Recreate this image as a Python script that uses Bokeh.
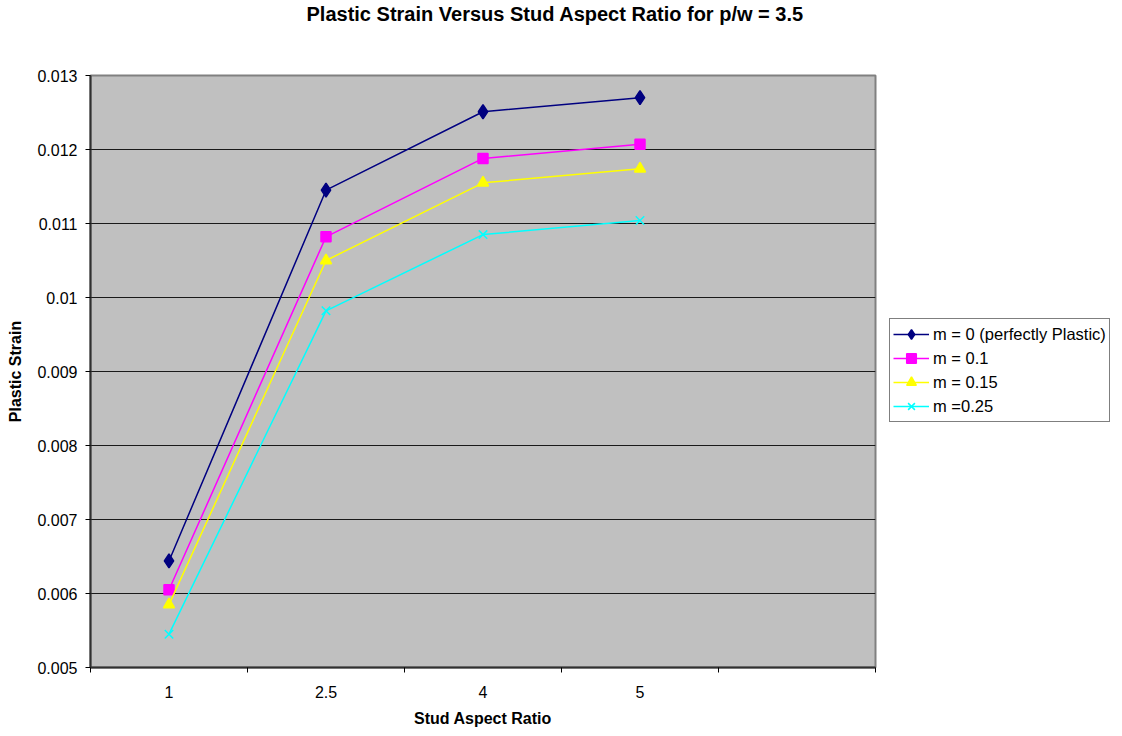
from bokeh.plotting import figure
from bokeh.models import FixedTicker, Range1d, Legend, Title
from bokeh.layouts import row
from bokeh.embed import file_html
from bokeh.resources import INLINE

# ---- data ----
categories = ["1", "2.5", "4", "5"]
m0 = [0.00644, 0.01145, 0.01251, 0.01270]
m01 = [0.00605, 0.01082, 0.01188, 0.01207]
m015 = [0.00585, 0.01050, 0.01155, 0.01174]
m025 = [0.00545, 0.00982, 0.01085, 0.01104]
series_names = ["m = 0 (perfectly Plastic)", "m = 0.1", "m = 0.15", "m =0.25"]
y_ticks = [0.005, 0.006, 0.007, 0.008, 0.009, 0.010, 0.011, 0.012, 0.013]
y_tick_labels = ["0.005", "0.006", "0.007", "0.008", "0.009", "0.01", "0.011", "0.012", "0.013"]
n_slots = 5  # category slots on the axis (last one empty)
chart_title = "Plastic Strain Versus Stud Aspect Ratio for p/w = 3.5"

FONT = "Liberation Sans"
W_MAIN = 877
W_LEG = 1122 - W_MAIN

x_pos = [i + 0.5 for i in range(len(categories))]

p = figure(width=W_MAIN, height=736, output_backend="svg", toolbar_location=None,
           x_range=Range1d(0, n_slots), y_range=Range1d(y_ticks[0], y_ticks[-1]),
           min_border_left=90, min_border_right=2, min_border_top=0, min_border_bottom=69)
p.title = None

p.border_fill_color = "white"
p.background_fill_color = "#C0C0C0"
p.outline_line_color = "#808080"
p.outline_line_width = 2

# x axis
xa = p.xaxis[0]
xa.ticker = FixedTicker(ticks=x_pos, minor_ticks=list(range(n_slots + 1)))
xa.major_label_overrides = {x: c for x, c in zip(x_pos, categories)}
xa.major_tick_out = 0
xa.major_tick_in = 0
xa.minor_tick_out = 5
xa.minor_tick_in = 0
xa.minor_tick_line_color = "black"
xa.axis_line_color = "#303030"
xa.axis_line_width = 2
xa.axis_label = "Stud Aspect Ratio"
xa.axis_label_text_font = FONT
xa.axis_label_text_font_style = "bold"
xa.axis_label_text_font_size = "16px"
xa.axis_label_text_color = "black"
xa.axis_label_standoff = 9
xa.major_label_text_font = FONT
xa.major_label_text_font_size = "16px"
xa.major_label_standoff = 13
xa.major_label_text_color = "black"

# y axis
ya = p.yaxis[0]
ya.ticker = FixedTicker(ticks=y_ticks, minor_ticks=[])
ya.major_label_overrides = {t: l for t, l in zip(y_ticks, y_tick_labels)}
ya.major_tick_out = 5
ya.major_tick_in = 0
ya.major_tick_line_color = "black"
ya.axis_line_color = "#303030"
ya.axis_line_width = 2
ya.axis_label = "Plastic Strain"
ya.axis_label_text_font = FONT
ya.axis_label_text_font_style = "bold"
ya.axis_label_text_font_size = "16px"
ya.axis_label_text_color = "black"
ya.axis_label_standoff = 10
ya.major_label_text_font = FONT
ya.major_label_text_font_size = "16px"
ya.major_label_standoff = 8
ya.major_label_text_color = "black"

p.xgrid.grid_line_color = None
p.ygrid.grid_line_color = "#1a1a1a"
p.ygrid.grid_line_width = 1

colors = ["#000080", "#FF00FF", "#FFFF00", "#00FFFF"]
markers = ["diamond", "square", "triangle", "x"]
sizes = [14, 10, 11, 12]
data = [m0, m01, m015, m025]

for vals, col, mk, sz in zip(data, colors, markers, sizes):
    p.line(x_pos, vals, line_color=col, line_width=1.5)
    p.scatter(x_pos, vals, marker=mk, size=sz,
              fill_color=col, line_color=col, line_width=1.5)

# spacer title (closest to frame) then the real title above it
p.add_layout(Title(text=" ", text_font_size="1px", standoff=48), "above")
p.add_layout(Title(text=chart_title, text_font=FONT, text_font_style="bold",
                   text_font_size="20px", text_color="black",
                   align="left", offset=216, standoff=0), "above")

# ---- legend panel (separate figure to the right) ----
lf = figure(width=W_LEG, height=736, output_backend="svg", toolbar_location=None,
            x_range=Range1d(100, 101), y_range=Range1d(100, 101),
            min_border=0, outline_line_color=None)
lf.axis.visible = False
lf.grid.visible = False
lf.background_fill_color = "white"
lf.border_fill_color = "white"

items = []
for name, vals, col, mk, sz in zip(series_names, data, colors, markers, sizes):
    r1 = lf.line(x_pos, vals, line_color=col, line_width=1.5)
    r2 = lf.scatter(x_pos, vals, marker=mk, size=sz,
                    fill_color=col, line_color=col, line_width=1.5)
    items.append((name, [r1, r2]))

legend = Legend(items=items, location=(12, 245))
legend.label_text_font = FONT
legend.label_text_font_size = "16.5px"
legend.label_text_color = "black"
legend.border_line_color = "black"
legend.border_line_width = 1
legend.background_fill_color = "white"
legend.background_fill_alpha = 1
legend.padding = 3
legend.margin = 0
legend.spacing = 0
legend.glyph_width = 36
legend.glyph_height = 24
legend.label_height = 24
legend.label_standoff = 4
lf.add_layout(legend, "center")

layout = row(p, lf, spacing=0)
open("out.html", "w").write(file_html(layout, INLINE))
